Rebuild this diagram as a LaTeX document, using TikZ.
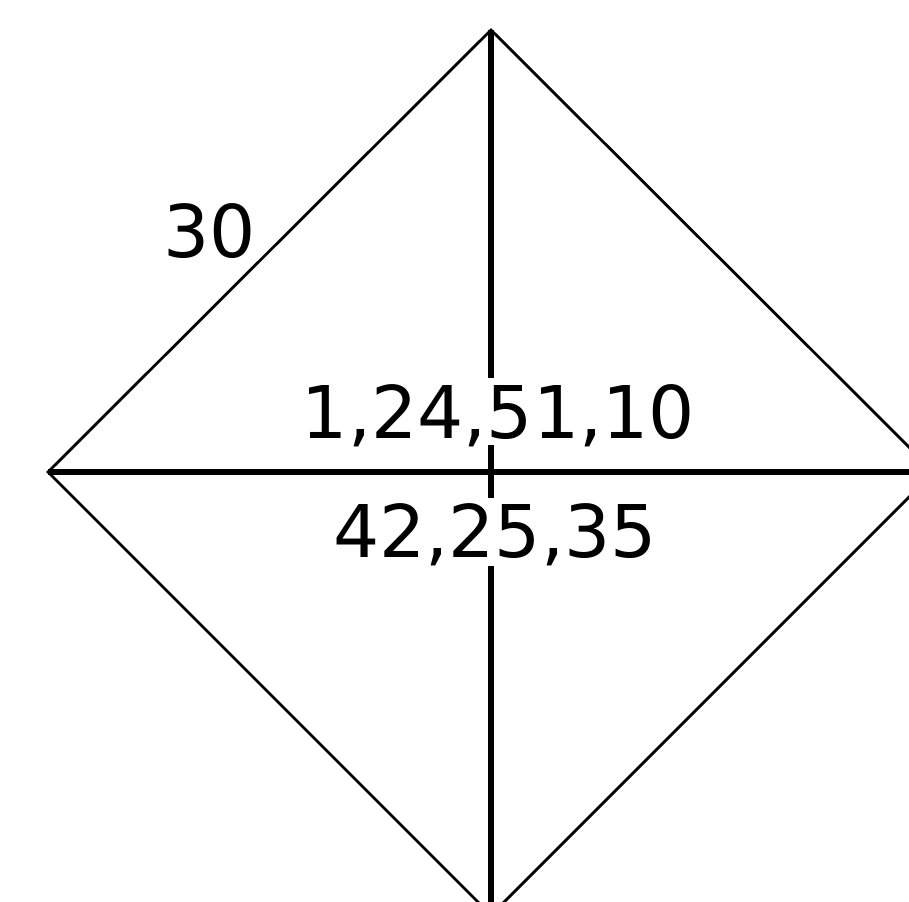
\documentclass[tikz,border=0pt]{standalone}
\usepackage{fontspec}
\setmainfont{DejaVu Sans}
\begin{document}
\begin{tikzpicture}[x=1pt,y=-1pt,
  edge/.style={line width=2.8pt},
  axis/.style={line width=6pt},
  lbl/.style={anchor=base,inner sep=0pt,font=\fontsize{72.7}{80}\selectfont},
  mask/.style={lbl,fill=white}]
\useasboundingbox (0,0) rectangle (909,901);
\coordinate (top) at (491,30);
\coordinate (left) at (48,472);
\coordinate (right) at (934,472);
\coordinate (bottom) at (491,915);
\draw[edge] (top) -- (right) -- (bottom) -- (left) -- cycle;
\draw[axis] (top) -- (bottom);
\draw[axis] (left) -- (right);
\node[mask,text height=60pt,text depth=7pt] (upper) at (498.5,438) {1,24,51,10};
\node[mask,text height=59pt,text depth=9pt] (lower) at (495,557) {42,25,35};
\node[lbl] (side) at (209.5,257) {30};
\end{tikzpicture}
\end{document}
